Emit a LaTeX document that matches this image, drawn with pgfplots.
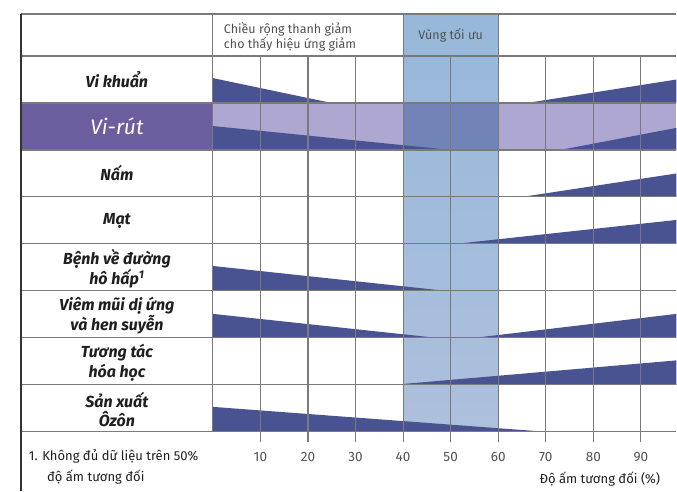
\documentclass[border=0pt]{standalone}
\usepackage{fontspec}
\setmainfont{Fira Sans}
\usepackage{pgfplots}
\pgfplotsset{compat=1.18}
\definecolor{wedge}{HTML}{4A5391}
\definecolor{virus}{HTML}{6C5E9E}
\definecolor{band}{HTML}{ADA7D1}
\definecolor{overlap}{HTML}{7283B7}
\definecolor{zonetop}{HTML}{97B8DA}
\definecolor{zonebot}{HTML}{ADC0DD}
\definecolor{gridc}{HTML}{7A7A7A}
\definecolor{txt}{HTML}{1E1E1E}
\definecolor{lighttxt}{HTML}{505050}
\tikzset{gl/.style={draw=gridc, line width=1.1pt},
  cat/.style={align=center, text=txt, font=\fontsize{16}{19.5}\selectfont\bfseries\itshape}}
\pgfplotsset{wf/.style={fill=wedge, draw=none, forget plot}}
\begin{document}
\begin{tikzpicture}
\begin{axis}[
  scale only axis, width=677pt, height=491pt,
  xmin=-44.75, xmax=97.48, ymin=-1.255, ymax=9.191,
  axis line style={draw=none}, major tick length=0pt,
  xtick={10,20,30,40,50,60,70,80,90}, ytick=\empty,
  xticklabel style={anchor=center, yshift=34pt, font=\fontsize{13.5}{14}\selectfont, text=lighttxt},
  /pgf/number format/assume math mode=true,
  clip=false,
]
% Vi-rut band
\addplot[fill=band, draw=none] coordinates {(0,6) (0,7) (97.48,7) (97.48,6)} --cycle;
% optimal zone
\addplot[draw=none, top color=zonetop, bottom color=zonebot] coordinates {(40,0) (40,8.894) (60,8.894) (60,0)} --cycle;
\addplot[fill=overlap, draw=none] coordinates {(40,6) (40,7) (60,7) (60,6)} --cycle;
% Vi-rut label cell
\addplot[fill=virus, draw=none] coordinates {(-40.34,6) (-40.34,7) (0,7) (0,6)} --cycle;
% wedges
\addplot[wf] coordinates {(0,7) (0,7.53) (25,7)} --cycle;
\addplot[wf] coordinates {(66,7) (97.48,7.50) (97.48,7)} --cycle;
\addplot[wf] coordinates {(0,6) (0,6.51) (50,6)} --cycle;
\addplot[wf] coordinates {(73,6) (97.48,6.47) (97.48,6)} --cycle;
\addplot[wf] coordinates {(65,5) (97.48,5.50) (97.48,5)} --cycle;
\addplot[wf] coordinates {(51,4) (97.48,4.51) (97.48,4)} --cycle;
\addplot[wf] coordinates {(0,3) (0,3.53) (49,3)} --cycle;
\addplot[wf] coordinates {(0,2) (0,2.51) (47,2)} --cycle;
\addplot[wf] coordinates {(55,2) (97.48,2.51) (97.48,2)} --cycle;
\addplot[wf] coordinates {(38,1) (97.48,1.52) (97.48,1)} --cycle;
\addplot[wf] coordinates {(0,0) (0,0.53) (70,0)} --cycle;
% grid
\pgfplotsinvokeforeach{0,1,2,3,4,5,6,7,8,8.894}{\draw[gl] (axis cs:-40.34,#1) -- (axis cs:97.48,#1);}
\pgfplotsinvokeforeach{10,20,30,50,70,80,90}{\draw[gl] (axis cs:#1,8) -- (axis cs:#1,-0.213);}
\pgfplotsinvokeforeach{40,60}{\draw[gl] (axis cs:#1,8.894) -- (axis cs:#1,-0.213);}
\draw[gl] (axis cs:0,8.894) -- (axis cs:0,0);
\draw[draw=black!80, line width=1.1pt] (axis cs:-40.34,8.894) -- (axis cs:-40.34,-1.255);
% labels
\node[cat] at (axis cs:-20.17,7.5) {Vi khuẩn};
\node[align=center, text=white, font=\fontsize{21}{24}\selectfont\itshape] at (axis cs:-20.17,6.5) {Vi-rút};
\node[cat] at (axis cs:-20.17,5.5) {Nấm};
\node[cat] at (axis cs:-20.17,4.5) {Mạt};
\node[cat] at (axis cs:-20.17,3.47) {Bệnh về đường\\hô hấp\textsuperscript{1}};
\node[cat] at (axis cs:-20.17,2.47) {Viêm mũi dị ứng\\và hen suyễn};
\node[cat] at (axis cs:-20.17,1.47) {Tương tác\\hóa học};
\node[cat] at (axis cs:-20.17,0.47) {Sản xuất\\Ôzôn};
\node[anchor=west, align=left, text=lighttxt, font=\fontsize{12.5}{13}\selectfont] at (axis cs:1.6,8.41) {Chiều rộng thanh giảm\\cho thấy hiệu ứng giảm};
\node[text=lighttxt, font=\fontsize{12.5}{13}\selectfont] at (axis cs:50,8.45) {Vùng tối ưu};
\node[anchor=west, text=txt, font=\fontsize{13}{14}\selectfont] at (axis cs:-39.4,-0.532) {1. Không đủ dữ liệu trên 50\%};
\node[anchor=west, text=txt, font=\fontsize{13}{14}\selectfont] at (axis cs:-35.6,-0.957) {độ ấm tương đối};
\node[anchor=east, text=txt, font=\fontsize{13}{14}\selectfont] at (axis cs:94.8,-1.0) {Độ ấm tương đối (\%)};
\end{axis}
\end{tikzpicture}
\end{document}
